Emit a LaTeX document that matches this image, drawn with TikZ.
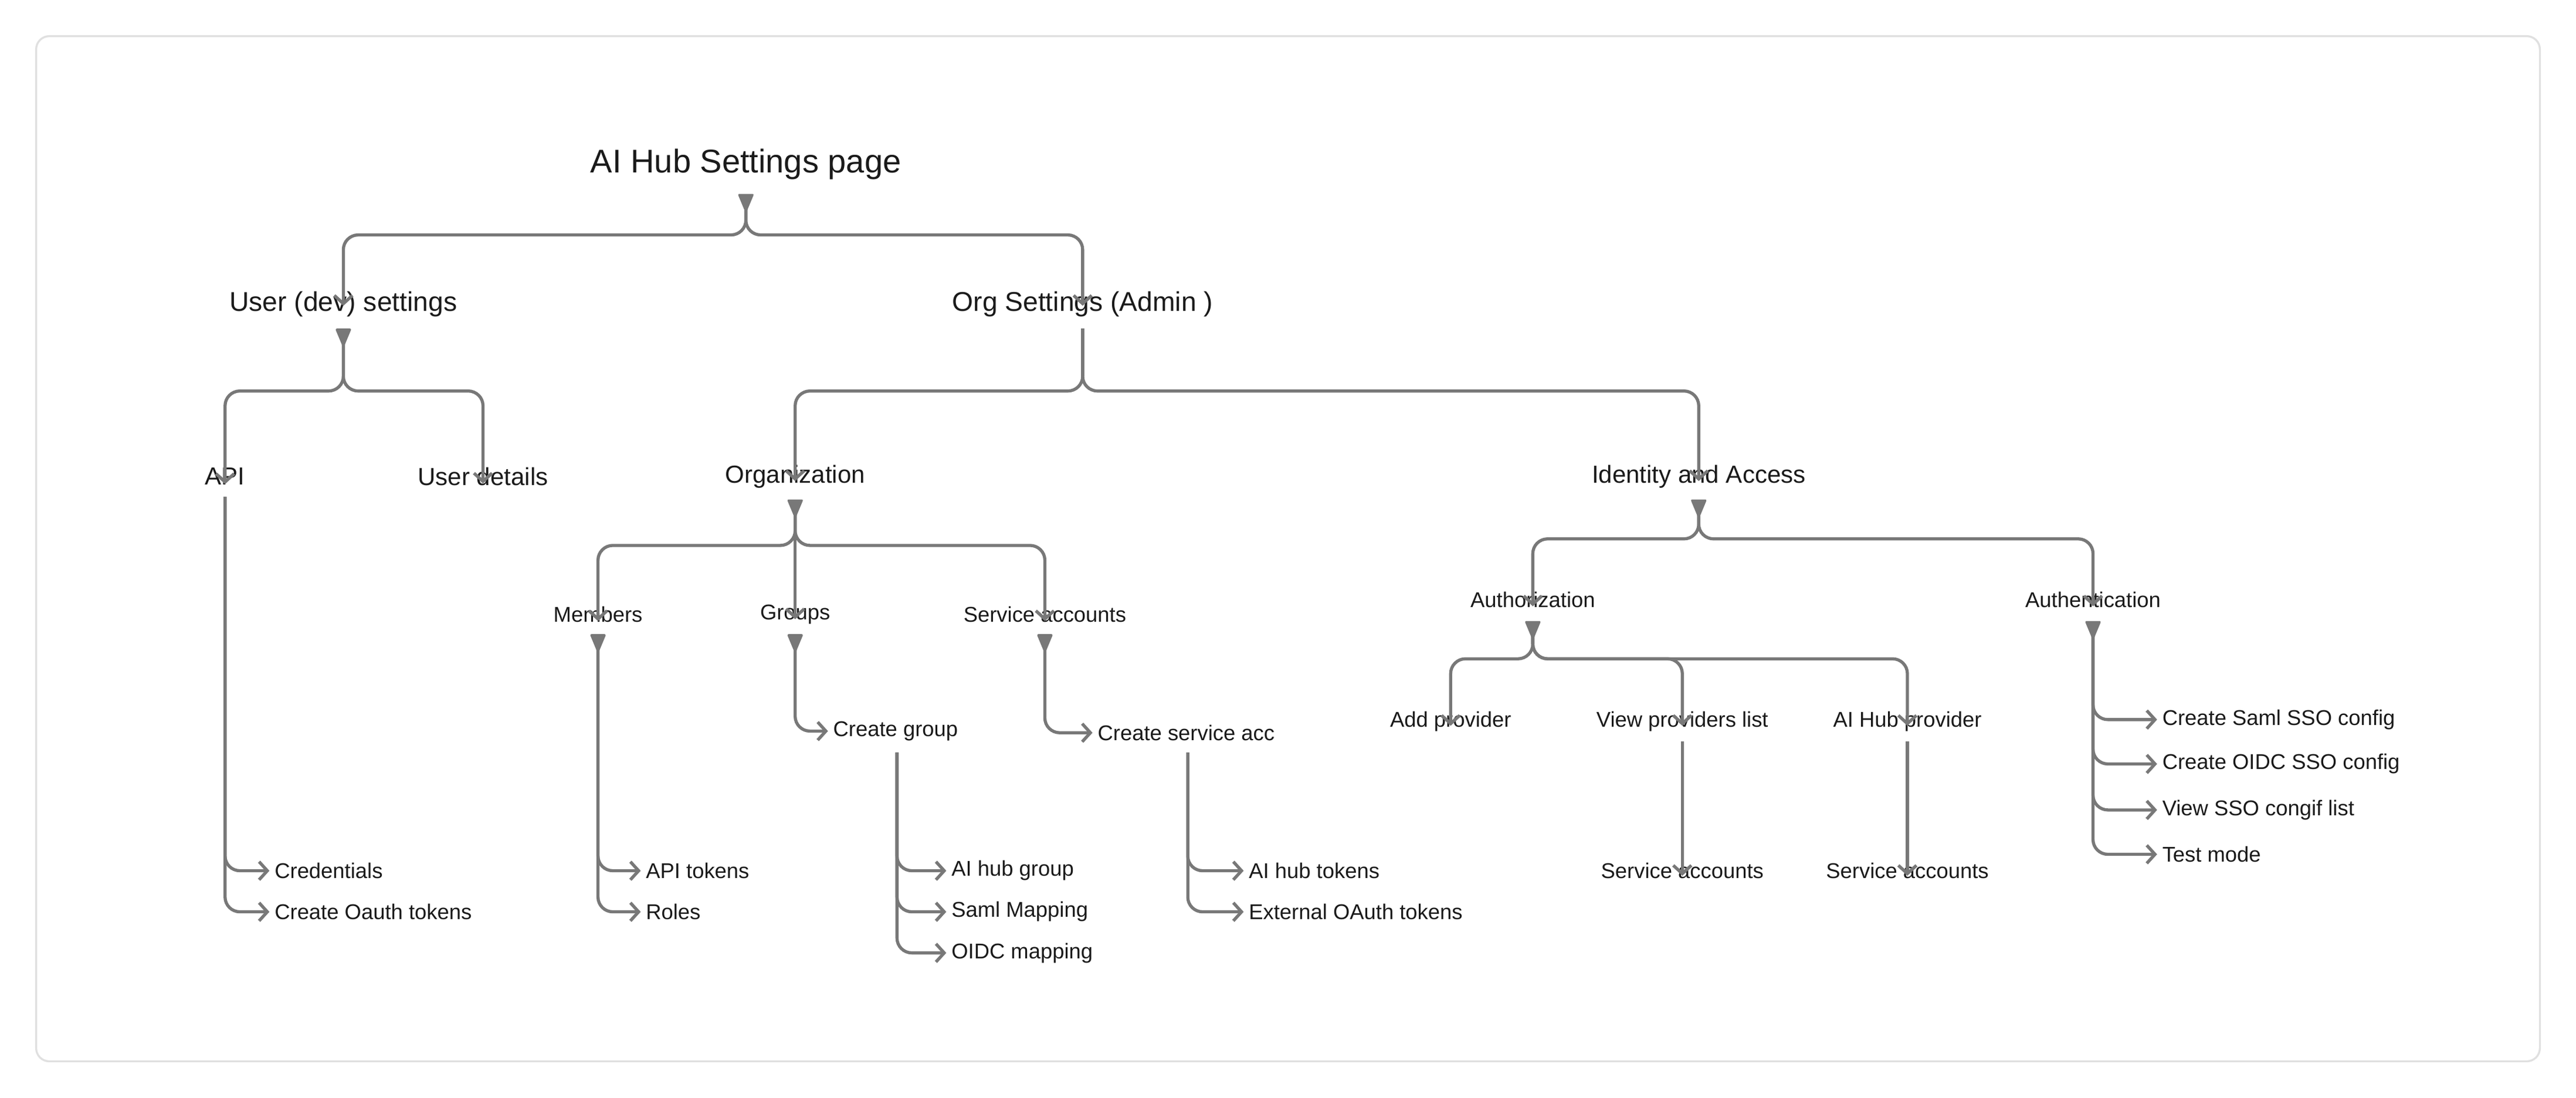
\documentclass[tikz,border=0pt]{standalone}
\usepackage{fontspec}
\setmainfont{Liberation Sans}
\usetikzlibrary{arrows.meta}
\definecolor{ln}{RGB}{120,120,120}
\definecolor{tx}{RGB}{26,26,26}
\tikzset{
  lab/.style={text=tx,inner sep=0pt,font=\fontsize{13}{15}\selectfont},
  l1/.style={lab,font=\fontsize{20}{24}\selectfont},
  l2/.style={lab,font=\fontsize{16.5}{20}\selectfont},
  l3/.style={lab,font=\fontsize{15}{18}\selectfont},
  conn/.style={draw=ln,line width=1.9pt,rounded corners=9pt},
  arr/.style={conn,-{Straight Barb[length=5pt,width=11pt,line width=1.9pt]}},
  mk/.style={fill=ln}
}
\newcommand{\mymark}[2]{\fill[mk,rounded corners=1pt] (#1-5,#2) -- (#1+5,#2) -- (#1,#2+12) -- cycle;}
\begin{document}
\begin{tikzpicture}[x=1pt,y=-1pt]
\useasboundingbox (0,0) rectangle (1568,668);
\draw[draw=black!12,fill=white,line width=1.2pt,rounded corners=8pt] (22,22) rectangle (1546,646);
% nodes
\node[l1] (root) at (454,100) {AI Hub Settings page};
\node[l2] (user) at (209,185) {User (dev) settings};
\node[l2] (org) at (659,185) {Org Settings (Admin )};
\node[l3] (api) at (137,290) {API};
\node[l3] (ud) at (294,290) {User details};
\node[l3] (orgn) at (484,290) {Organization};
\node[l3] (ia) at (1034,290) {Identity and Access};
\node[lab] (mem) at (364,374) {Members};
\node[lab] (grp) at (484,374) {Groups};
\node[lab] (sa) at (636,374) {Service accounts};
\node[lab] (authz) at (933,365) {Authorization};
\node[lab] (authn) at (1274,365) {Authentication};
\node[lab,anchor=west] (cg) at (507,445) {Create group};
\node[lab,anchor=west] (csa) at (668,446) {Create service acc};
\node[lab] (addp) at (883,439) {Add provider};
\node[lab] (vpl) at (1024,439) {View providers list};
\node[lab] (ahp) at (1161,439) {AI Hub provider};
\node[lab] (sa1) at (1024,530) {Service accounts};
\node[lab] (sa2) at (1161,530) {Service accounts};
\node[lab,anchor=west] (cred) at (167,530) {Credentials};
\node[lab,anchor=west] (coa) at (167,555) {Create Oauth tokens};
\node[lab,anchor=west] (apit) at (393,530) {API tokens};
\node[lab,anchor=west] (roles) at (393,555) {Roles};
\node[lab,anchor=west] (ahg) at (579,530) {AI hub group};
\node[lab,anchor=west] (saml) at (579,555) {Saml Mapping};
\node[lab,anchor=west] (oidc) at (579,580) {OIDC mapping};
\node[lab,anchor=west] (aht) at (760,530) {AI hub tokens};
\node[lab,anchor=west] (ext) at (760,555) {External OAuth tokens};
\node[lab,anchor=west] (css) at (1316,438) {Create Saml SSO config};
\node[lab,anchor=west] (cos) at (1316,465) {Create OIDC SSO config};
\node[lab,anchor=west] (vss) at (1316,493) {View SSO congif list};
\node[lab,anchor=west] (tm) at (1316,520) {Test mode};
% markers
\mymark{454}{118}
\mymark{209}{200}
\mymark{484}{304}
\mymark{1034}{304}
\mymark{364}{386}
\mymark{484}{386}
\mymark{636}{386}
\mymark{933}{378}
\mymark{1274}{378}
% top
\coordinate (r0) at (454,126);
\draw[arr] (r0) -- (454,143) -| ([yshift=-9pt]user.north);
\draw[arr] (r0) -- (454,143) -| ([yshift=-9pt]org.north);
% user
\coordinate (u0) at (209,208);
\draw[arr] (u0) -- (209,238) -| ([yshift=-10pt]api.north);
\draw[arr] (u0) -- (209,238) -| ([yshift=-10pt]ud.north);
% org
\draw[arr] (659,200) -- (659,238) -| ([yshift=-10pt]orgn.north);
\draw[arr] (659,200) -- (659,238) -| ([yshift=-10pt]ia.north);
% organization
\coordinate (o0) at (484,312);
\draw[arr] (o0) -- (484,332) -| ([yshift=-9pt]mem.north);
\draw[arr] (o0) -- ([yshift=-9pt]grp.north);
\draw[arr] (o0) -- (484,332) -| ([yshift=-9pt]sa.north);
% identity
\coordinate (i0) at (1034,312);
\draw[arr] (i0) -- (1034,328) -| ([yshift=-9pt]authz.north);
\draw[arr] (i0) -- (1034,328) -| ([yshift=-9pt]authn.north);
% authorization
\coordinate (a0) at (933,386);
\draw[arr] (a0) -- (933,401) -| ([yshift=-9pt]addp.north);
\draw[arr] (a0) -- (933,401) -| ([yshift=-9pt]vpl.north);
\draw[arr] (a0) -- (933,401) -| ([yshift=-9pt]ahp.north);
\draw[arr] ([yshift=-6pt]vpl.south) -- ([yshift=-8pt]sa1.north);
\draw[arr] ([yshift=-6pt]ahp.south) -- ([yshift=-8pt]sa2.north);
% API
\draw[arr] ([yshift=-7pt]api.south) |- ([xshift=-3pt]cred.west);
\draw[arr] ([yshift=-7pt]api.south) |- ([xshift=-3pt]coa.west);
% members
\draw[arr] (364,394) |- ([xshift=-3pt]apit.west);
\draw[arr] (364,394) |- ([xshift=-3pt]roles.west);
% groups
\draw[arr] (484,394) |- ([xshift=-3pt]cg.west);
\draw[arr] (546,458) |- ([xshift=-3pt]ahg.west);
\draw[arr] (546,458) |- ([xshift=-3pt]saml.west);
\draw[arr] (546,458) |- ([xshift=-3pt]oidc.west);
% service accounts
\draw[arr] (636,394) |- ([xshift=-3pt]csa.west);
\draw[arr] (723,458) |- ([xshift=-3pt]aht.west);
\draw[arr] (723,458) |- ([xshift=-3pt]ext.west);
% authentication
\draw[arr] (1274,386) |- ([xshift=-3pt]css.west);
\draw[arr] (1274,386) |- ([xshift=-3pt]cos.west);
\draw[arr] (1274,386) |- ([xshift=-3pt]vss.west);
\draw[arr] (1274,386) |- ([xshift=-3pt]tm.west);
\end{tikzpicture}
\end{document}
